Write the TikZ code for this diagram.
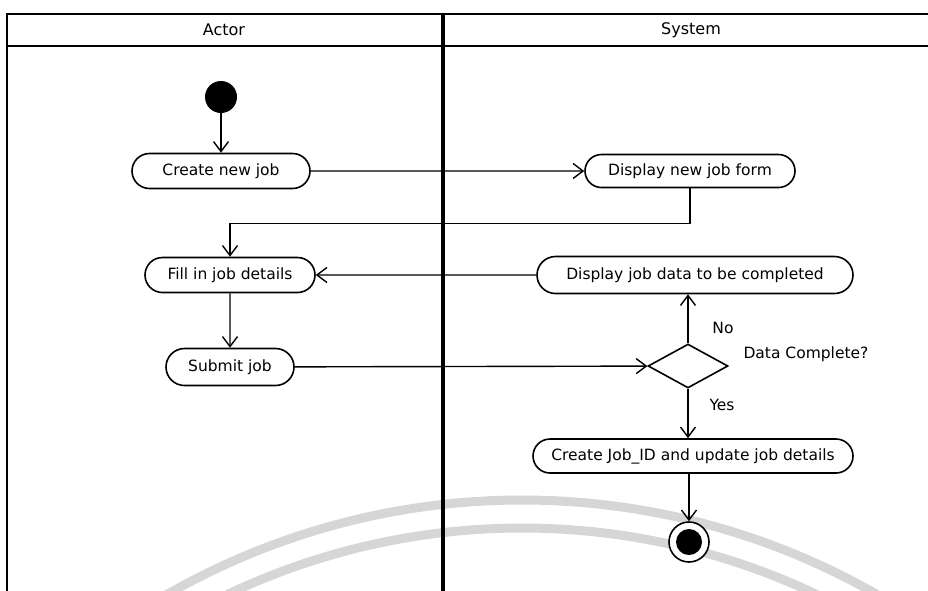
\documentclass[tikz,border=0pt]{standalone}
\usepackage{fontspec}
\usetikzlibrary{arrows.meta,shapes.misc,shapes.geometric}
\newfontfamily\diafont{DejaVu Sans}
\begin{document}
\begin{tikzpicture}[x=1pt,y=-1pt,
  actbox/.style={draw, line width=1.6pt, rounded rectangle, rounded rectangle arc length=180,
    inner sep=0pt, font=\diafont\fontsize{15.5}{18}\selectfont},
  flow/.style={line width=1.4pt, -{Straight Barb[length=10pt,width=15pt,line width=1.4pt]}},
  lanehead/.style={font=\diafont\fontsize{16}{19}\selectfont},
  guard/.style={font=\diafont\fontsize{15.5}{18}\selectfont},
  stamp/.style={draw=black!16, line width=9pt}]
\useasboundingbox (0,0) rectangle (928,590);
\begin{scope}
\clip (0,0) rectangle (928,590);
% faint background seal
\draw[stamp] (522,1214) ++(238:714) arc[start angle=238, end angle=302, radius=714];
\draw[stamp] (522,1214) ++(243:686) arc[start angle=243, end angle=297, radius=686];
% swimlane frame
\draw[line width=2.2pt] (7,14) -- (930,14);
\draw[line width=1.8pt] (7,46) -- (930,46);
\draw[line width=2.2pt] (7,13) -- (7,592);
\draw[line width=3.8pt] (443,13) -- (443,592);
\end{scope}
\node[lanehead] (actor) at (224,30) {Actor};
\node[lanehead] (system) at (691,30) {System};

% actions
\node[circle, fill=black, minimum size=32pt, inner sep=0pt] (start) at (221,97) {};
\node[actbox, fill=white, minimum width=178pt, minimum height=35pt] (create) at (221,171) {Create new job};
\node[actbox, fill=white, minimum width=210pt, minimum height=33pt] (dispnew) at (690,171) {Display new job form};
\node[actbox, fill=white, minimum width=170pt, minimum height=35pt] (fill) at (230,275) {Fill in job details};
\node[actbox, fill=white, minimum width=316pt, minimum height=37pt] (dispdata) at (695,275) {Display job data to be completed};
\node[actbox, fill=white, minimum width=128pt, minimum height=37pt] (submit) at (230,367) {Submit job};
\node[diamond, draw, fill=white, line width=1.6pt, minimum width=80pt, minimum height=44pt, inner sep=0pt] (dec) at (688,366) {};
\node[actbox, fill=white, minimum width=320pt, minimum height=34pt] (createid) at (693,456) {Create Job\_ID and update job details};
\node[circle, draw, fill=white, line width=1.6pt, minimum size=40pt, inner sep=0pt] (final) at (689,542) {};
\node[circle, fill=black, minimum size=26pt, inner sep=0pt] (finaldot) at (final) {};

% guard labels
\node[guard] (no) at (723,328) {No};
\node[guard, anchor=west] (cond) at (740,354) {Data Complete?};
\node[guard] (yes) at (722,405) {Yes};

% control flow
\draw[flow] (start) -- (create);
\draw[flow] (create) -- (dispnew);
\draw[flow] (dispnew.south) -- ++(0,35) -| (fill.north);
\draw[flow] (dispdata) -- (fill);
\draw[flow] (fill) -- (submit);
\draw[flow] (submit) -- (dec);
\draw[flow] (dec.north) -- (dec.north |- dispdata.south);
\draw[flow] (dec.south) -- (dec.south |- createid.north);
\draw[flow] (final.north |- createid.south) -- (final.north);
\end{tikzpicture}
\end{document}
